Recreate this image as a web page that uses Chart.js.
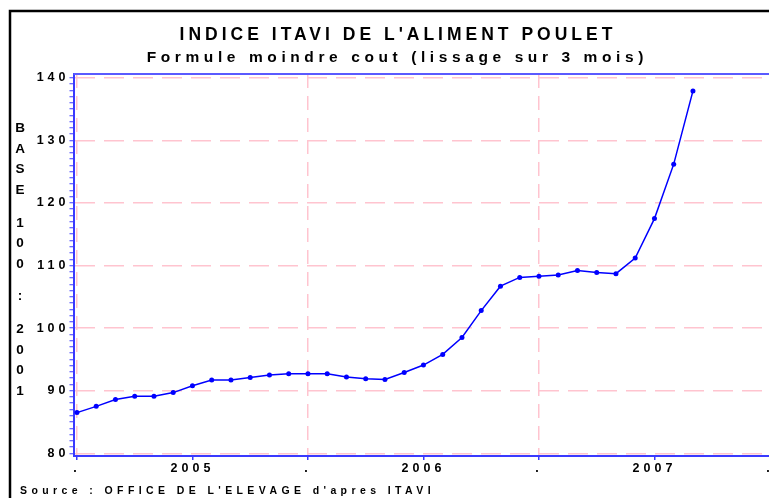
<!DOCTYPE html>
<html>
<head>
<meta charset="utf-8">
<script src="https://cdn.jsdelivr.net/npm/chart.js@4/dist/chart.umd.min.js"></script>
<style>
  html, body { margin: 0; padding: 0; background: #fff; overflow: hidden; }
  .chart-wrapper { position: relative; width: 780px; height: 498px; }
</style>
</head>
<body>
<div class="chart-wrapper"><canvas id="line-chart" width="780" height="498"></canvas></div>
<script>
//
// DATA
//

// month number since january 2005 (0 = jan 2005)
var monthIndex = [0,1,2,3,4,5,6,7,8,9,10,11,12,13,14,15,16,17,18,19,20,21,22,23,24,25,26,27,28,29,30,31,32]
var indexValues = [86.5,87.5,88.6,89.1,89.1,89.7,90.8,91.7,91.7,92.1,92.5,92.7,
  92.7,92.7,92.2,91.9,91.8,92.9,94.1,95.8,98.5,102.8,106.7,108.1,
  108.3,108.5,109.2,108.9,108.7,111.2,117.5,126.2,137.9]
var yearLabels = ['2005', '2006', '2007']
var xTickValues = [0, 6, 12, 18, 24, 30, 36]
var yTickLabels = [80, 90, 100, 110, 120, 130, 140]

var titleText = "INDICE ITAVI DE L'ALIMENT POULET"
var subtitleText = "Formule moindre cout (lissage sur 3 mois)"
var yAxisText = "BASE 100 : 2001"
var sourceText = "Source : OFFICE DE L'ELEVAGE d'apres ITAVI"

var blue = '#0000ff'
var axisBlue = '#3a3aff'
var pink = '#ffc4cf'
var fontFamily = '"Liberation Sans", Arial, sans-serif'

// minor ticks every unit on the y axis
var yMinorValues = []
for (let v = 80; v <= 140; v++) yMinorValues.push(v)

//
// PLUGINS
//

var framePlugin = {
  id: 'frame',
  beforeDraw: function(chart) {
    let ctx = chart.ctx
    ctx.save()
    ctx.fillStyle = '#fff'
    ctx.fillRect(0, 0, chart.width, chart.height)
    ctx.strokeStyle = '#000'
    ctx.lineWidth = 2.5
    ctx.beginPath()
    ctx.moveTo(10, chart.height)
    ctx.lineTo(10, 11)
    ctx.lineTo(chart.width, 11)
    ctx.stroke()
    ctx.restore()
    // spaced out tick labels
    ctx.letterSpacing = '4px'
  },
  afterDatasetsDraw: function(chart) {
    let ctx = chart.ctx
    let area = chart.chartArea
    ctx.save()
    ctx.strokeStyle = '#5a5aff'
    ctx.lineWidth = 2
    ctx.beginPath()
    ctx.moveTo(area.left, area.top)
    ctx.lineTo(area.right, area.top)
    ctx.stroke()
    ctx.restore()
  }
}

function spacedText(ctx, text, x, y, size, spacing, align) {
  ctx.save()
  ctx.font = 'bold ' + size + 'px ' + fontFamily
  ctx.letterSpacing = spacing + 'px'
  ctx.fillStyle = '#000'
  ctx.textBaseline = 'alphabetic'
  ctx.textAlign = align
  if (align === 'center') x += spacing / 2
  ctx.fillText(text, x, y)
  ctx.restore()
}

var textPlugin = {
  id: 'texts',
  afterDraw: function(chart) {
    let ctx = chart.ctx
    spacedText(ctx, titleText, 396, 39.5, 17.5, 4, 'center')
    spacedText(ctx, subtitleText, 395, 62, 15.5, 4.6, 'center')
    spacedText(ctx, sourceText, 20, 494, 10.5, 4.4, 'left')

    // vertical y axis title, one char under the other
    ctx.save()
    ctx.font = 'bold 13.5px ' + fontFamily
    ctx.fillStyle = '#000'
    ctx.textAlign = 'center'
    ctx.textBaseline = 'middle'
    ctx.letterSpacing = '0px'
    let y = 128.5
    for (let c of yAxisText) {
      if (c === ' ') { y += 12; continue }
      ctx.fillText(c, 20, y)
      y += 20.6
    }
    ctx.restore()
    ctx.letterSpacing = '0px'
  }
}

//
// CHART
//

var lineChart = new Chart(document.getElementById('line-chart'), {
  type: 'line',
  data: {
    datasets: [{
      data: indexValues.map((v, i) => ({ x: monthIndex[i], y: v })),
      borderColor: blue,
      backgroundColor: blue,
      borderWidth: 1.5,
      pointRadius: 2.5,
      pointBackgroundColor: blue,
      pointBorderWidth: 0,
      tension: 0,
      fill: false
    }]
  },
  options: {
    responsive: false,
    animation: false,
    layout: { padding: { left: 0, top: 74, right: 6, bottom: 0 } },
    plugins: {
      legend: { display: false },
      title: { display: false },
      tooltip: { enabled: false }
    },
    scales: {
      x: {
        type: 'linear',
        min: -0.18,
        max: 36.21,
        afterBuildTicks: function(scale) {
          scale.ticks = xTickValues.map(v => ({ value: v }))
        },
        afterFit: function(scale) { scale.height = 42 },
        ticks: {
          autoSkip: false,
          maxRotation: 0,
          padding: 1,
          color: '#000',
          font: { family: fontFamily, size: 12.5, weight: 'bold' },
          callback: function(v) {
            if (v % 12 === 0) return '.'
            return yearLabels[(v - 6) / 12]
          }
        },
        grid: {
          color: ctx => (ctx.tick && ctx.tick.value % 12 === 0) ? pink : 'rgba(0,0,0,0)',
          lineWidth: 1.5,
          tickColor: axisBlue,
          tickLength: 4,
          tickWidth: 1.5,
          tickBorderDash: []
        },
        border: { color: axisBlue, width: 2, dash: [14, 8] }
      },
      y: {
        min: 79.57,
        max: 140.6,
        afterBuildTicks: function(scale) {
          scale.ticks = yMinorValues.map(v => ({ value: v }))
        },
        afterFit: function(scale) { scale.width = 73.5 },
        ticks: {
          autoSkip: false,
          padding: 0,
          color: '#000',
          font: { family: fontFamily, size: 12.5, weight: 'bold' },
          callback: function(v) {
            return yTickLabels.includes(v) ? String(v) : ''
          }
        },
        grid: {
          color: ctx => (ctx.tick && yTickLabels.includes(ctx.tick.value)) ? pink : 'rgba(0,0,0,0)',
          lineWidth: 1.5,
          tickColor: axisBlue,
          tickLength: 4,
          tickWidth: 1,
          tickBorderDash: []
        },
        border: { color: axisBlue, width: 2, dash: [20, 9] }
      }
    }
  },
  plugins: [framePlugin, textPlugin]
})
</script>
</body>
</html>
